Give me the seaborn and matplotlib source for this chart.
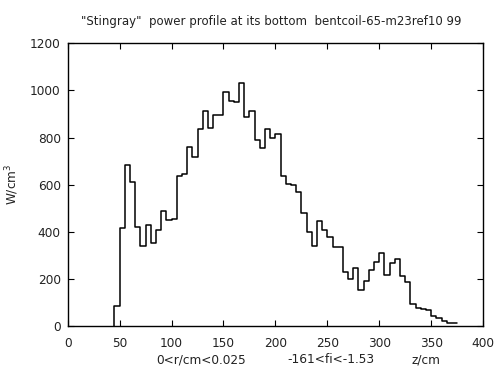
import numpy as np
import pandas as pd
import matplotlib
matplotlib.use("Agg")
import matplotlib.pyplot as plt
import seaborn as sns

# left bin edges in z (cm), bin width 5 cm
z_left = np.arange(45, 375, 5)
power = [85, 415, 685, 612, 419, 341, 427, 351, 407, 490,
         448, 456, 638, 647, 758, 716, 836, 911, 840, 894,
         895, 993, 955, 952, 1031, 887, 911, 789, 754, 838,
         800, 815, 638, 601, 597, 567, 481, 398, 341, 444,
         407, 379, 334, 334, 229, 198, 246, 153, 190, 238,
         272, 309, 216, 266, 286, 214, 185, 92, 78, 74,
         70, 41, 34, 20, 14, 14]
bin_width = 5

title = '"Stingray"  power profile at its bottom  bentcoil-65-m23ref10 99'
xlabel_parts = ["0<r/cm<0.025", "-161<fi<-1.53", "z/cm"]
xticks = [0, 50, 100, 150, 200, 250, 300, 350, 400]
yticks = [0, 200, 400, 600, 800, 1000, 1200]

# step outline: start from the baseline, close at the last right edge
zs = np.concatenate([[z_left[0]], z_left, [z_left[-1] + bin_width]])
ps = np.concatenate([[0], power, [power[-1]]])
df = pd.DataFrame({"z": zs, "p": ps})

sns.set_style("ticks")
plt.rcParams["font.family"] = ["DejaVu Sans"]
txt = "#222222"
fs = 8.7

fig = plt.figure(figsize=(4.98, 3.66), dpi=100)
ax = fig.add_axes([0.136, 0.1093, 0.834, 0.7724])

sns.lineplot(data=df, x="z", y="p", estimator=None, sort=False,
             drawstyle="steps-post", color="black", linewidth=1.1, ax=ax)

ax.set_xlim(0, 400)
ax.set_ylim(0, 1200)
ax.set_xticks(xticks)
ax.set_yticks(yticks)
ax.tick_params(direction="in", top=True, right=True, length=4,
               width=0.8, labelsize=fs, labelcolor=txt, colors="black")
ax.tick_params(axis="x", pad=8)
ax.tick_params(axis="y", pad=5)
for s in ax.spines.values():
    s.set_visible(True)
    s.set_linewidth(1.0)
    s.set_color("black")
ax.set_xlabel("")
ax.set_ylabel("W/cm$^3$", fontsize=fs, color=txt)
ax.yaxis.set_label_coords(-0.113, 0.5)

fig.text(0.545, 0.94, title, ha="center", va="center", fontsize=8.5, color=txt)
for xc, part in zip([0.404, 0.664, 0.855], xlabel_parts):
    fig.text(xc, 0.007, part, ha="center", va="baseline", fontsize=fs, color=txt)

fig.savefig("out.png", dpi=100)
